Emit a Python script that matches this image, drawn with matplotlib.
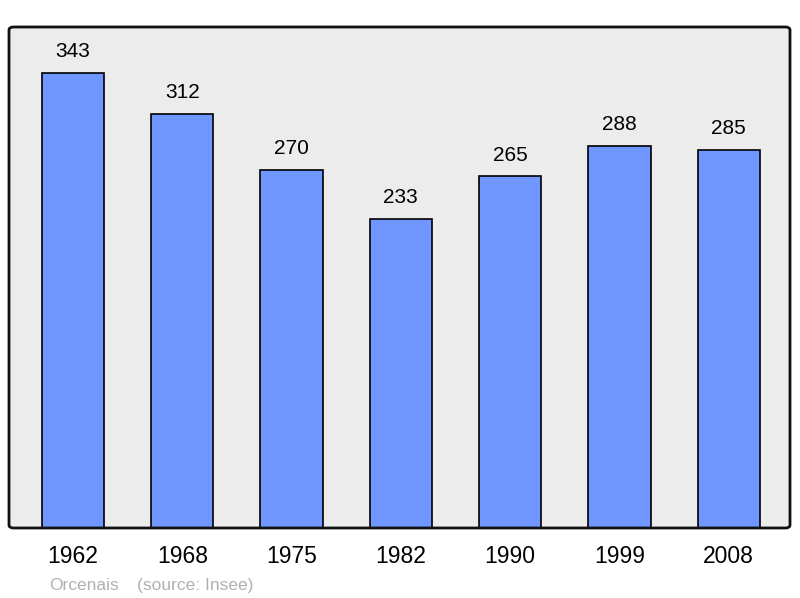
import matplotlib.pyplot as plt
from matplotlib.patches import FancyBboxPatch

# Population data
years = ['1962', '1968', '1975', '1982', '1990', '1999', '2008']
population = [343, 312, 270, 233, 265, 288, 285]

plt.rcParams['font.family'] = ['Liberation Sans', 'DejaVu Sans']

fig = plt.figure(figsize=(8, 5.98), dpi=100)
ax = fig.add_axes([9 / 800, 70 / 598, 781 / 800, 501 / 598])
ax.set_facecolor('#ececec')

x = list(range(len(years)))
bars = ax.bar(x, population, width=0.57, color='#7097ff', edgecolor='black',
              linewidth=1.2, zorder=2)

for xi, val in zip(x, population):
    ax.annotate(str(val), (xi, val), xytext=(0, 8.5), textcoords='offset points',
                ha='center', va='bottom', fontsize=15)

ax.set_xlim(-0.585, 6.56)
ax.set_ylim(0, 377.7)
ax.set_xticks(x)
ax.set_xticklabels(years, fontsize=16.5)
ax.tick_params(axis='x', length=0, pad=12.5)
ax.set_yticks([])

for s in ax.spines.values():
    s.set_visible(False)
frame = FancyBboxPatch((0, 0), 1, 1, boxstyle='round,pad=0,rounding_size=0.006',
                       transform=ax.transAxes, fill=False, edgecolor='#111111',
                       linewidth=2, zorder=5, clip_on=False)
ax.add_patch(frame)

fig.text(49 / 800, 1 - 590 / 598, 'Orcenais', color='#b0b0b0', fontsize=12.5,
         ha='left', va='baseline')
fig.text(137 / 800, 1 - 590 / 598, '(source: Insee)', color='#b0b0b0', fontsize=12.5,
         ha='left', va='baseline')

plt.savefig('out.png', dpi=100)
plt.close()
